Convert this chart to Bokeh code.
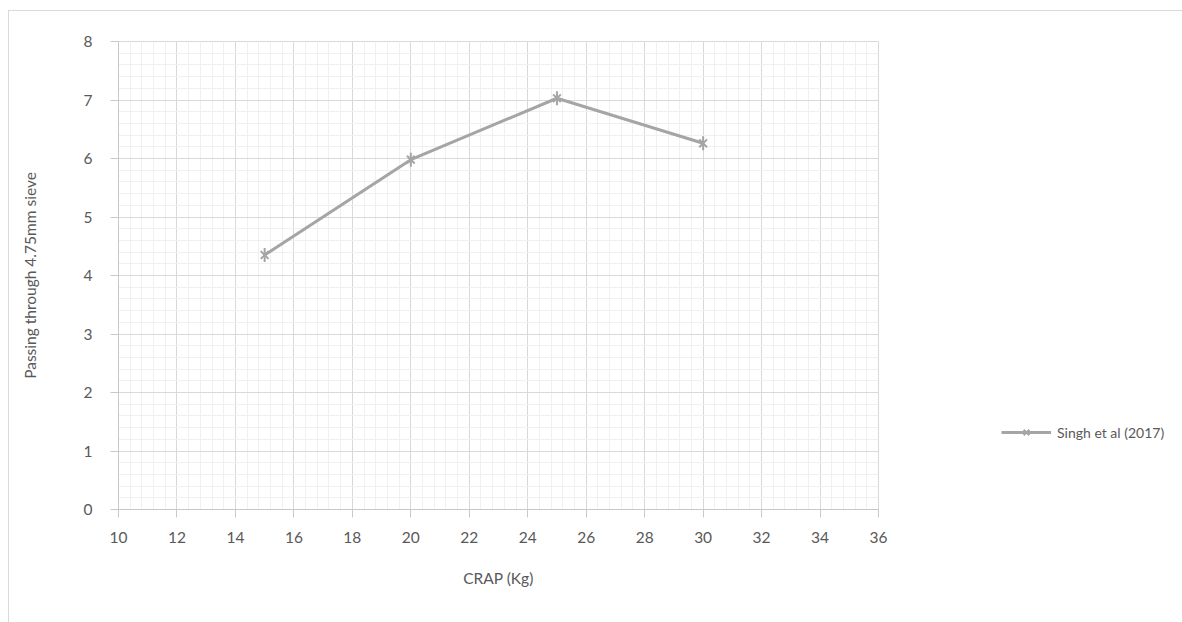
import math
from bokeh.plotting import figure
from bokeh.layouts import row
from bokeh.models import (SingleIntervalTicker, FixedTicker, Legend, LegendItem,
                          Range1d, ColumnDataSource)
from bokeh.embed import file_html
from bokeh.resources import INLINE

# CRAP dose (Kg) vs. passing through 4.75mm sieve
crap_kg = [15, 20, 25, 30]
passing = [4.35, 5.98, 7.03, 6.26]
series_name = "Singh et al (2017)"
x_ticks = list(range(10, 37, 2))
y_ticks = list(range(0, 9))

FONT = "Lato"
TEXT = "#595959"
LINE = "#a5a5a5"
AXIS_FS = "15.5px"

src = ColumnDataSource(dict(x=crap_kg, y=passing))


def draw_series(fig):
    ln = fig.line("x", "y", source=src, line_color=LINE, line_width=3)
    # star marker: a cross of diagonals plus a vertical stroke
    mx = fig.scatter("x", "y", source=src, marker="x", size=11,
                     line_color=LINE, line_width=2)
    mv = fig.scatter("x", "y", source=src, marker="dash", size=14,
                     angle=math.pi / 2, line_color=LINE, line_width=2)
    return [ln, mx, mv]


# main chart
p = figure(width=880, height=612, output_backend="svg", toolbar_location=None,
           x_range=Range1d(10, 36), y_range=Range1d(0, 8),
           min_border_left=109, min_border_right=11,
           min_border_top=30, min_border_bottom=114)
p.outline_line_color = "#d9d9d9"
p.background_fill_color = "white"
p.border_fill_color = "white"

p.xgrid.ticker = SingleIntervalTicker(interval=2, num_minor_ticks=5)
p.ygrid.ticker = SingleIntervalTicker(interval=1, num_minor_ticks=5)
for g in (p.xgrid, p.ygrid):
    g.grid_line_color = "#d9d9d9"
    g.grid_line_width = 1
    g.minor_grid_line_color = "#f0f0f0"
    g.minor_grid_line_width = 1

p.xaxis.ticker = FixedTicker(ticks=x_ticks)
p.yaxis.ticker = FixedTicker(ticks=y_ticks)
for ax in (p.xaxis[0], p.yaxis[0]):
    ax.axis_line_color = "#c8c8c8"
    ax.major_tick_line_color = "#c8c8c8"
    ax.major_tick_out = 8
    ax.major_tick_in = 0
    ax.minor_tick_line_color = None
    ax.major_label_text_font = FONT
    ax.major_label_text_font_size = AXIS_FS
    ax.major_label_text_color = TEXT
    ax.axis_label_text_font = FONT
    ax.axis_label_text_font_size = AXIS_FS
    ax.axis_label_text_color = TEXT
    ax.axis_label_text_font_style = "normal"
p.xaxis.axis_label = "CRAP (Kg)"
p.yaxis.axis_label = "Passing through 4.75mm sieve"
p.xaxis.major_label_standoff = 14
p.xaxis.axis_label_standoff = 23
p.yaxis.major_label_standoff = 18
p.yaxis.axis_label_standoff = 42

draw_series(p)

# legend strip to the right of the chart; its own ranges keep the
# series out of view so only the legend entry shows
lg = figure(width=294, height=612, output_backend="svg", toolbar_location=None,
            x_range=Range1d(0, 1), y_range=Range1d(0, 1),
            x_axis_type=None, y_axis_type=None,
            min_border=0)
lg.outline_line_color = None
lg.background_fill_color = "white"
lg.border_fill_color = "white"
lg_renderers = draw_series(lg)

legend = Legend(items=[LegendItem(label=series_name, renderers=lg_renderers)],
                location=(112, 67), orientation="vertical",
                glyph_width=50, glyph_height=20, label_standoff=6,
                padding=0, margin=0, spacing=0,
                background_fill_alpha=0, border_line_color=None,
                label_text_font=FONT, label_text_font_size="14px",
                label_text_color=TEXT)
lg.add_layout(legend, "center")

layout = row(p, lg, spacing=0)
layout.margin = (10, 0, 0, 8)
layout.styles = {"border-left": "1px solid #d9d9d9", "border-top": "1px solid #d9d9d9"}

open("out.html", "w").write(file_html(layout, INLINE))
